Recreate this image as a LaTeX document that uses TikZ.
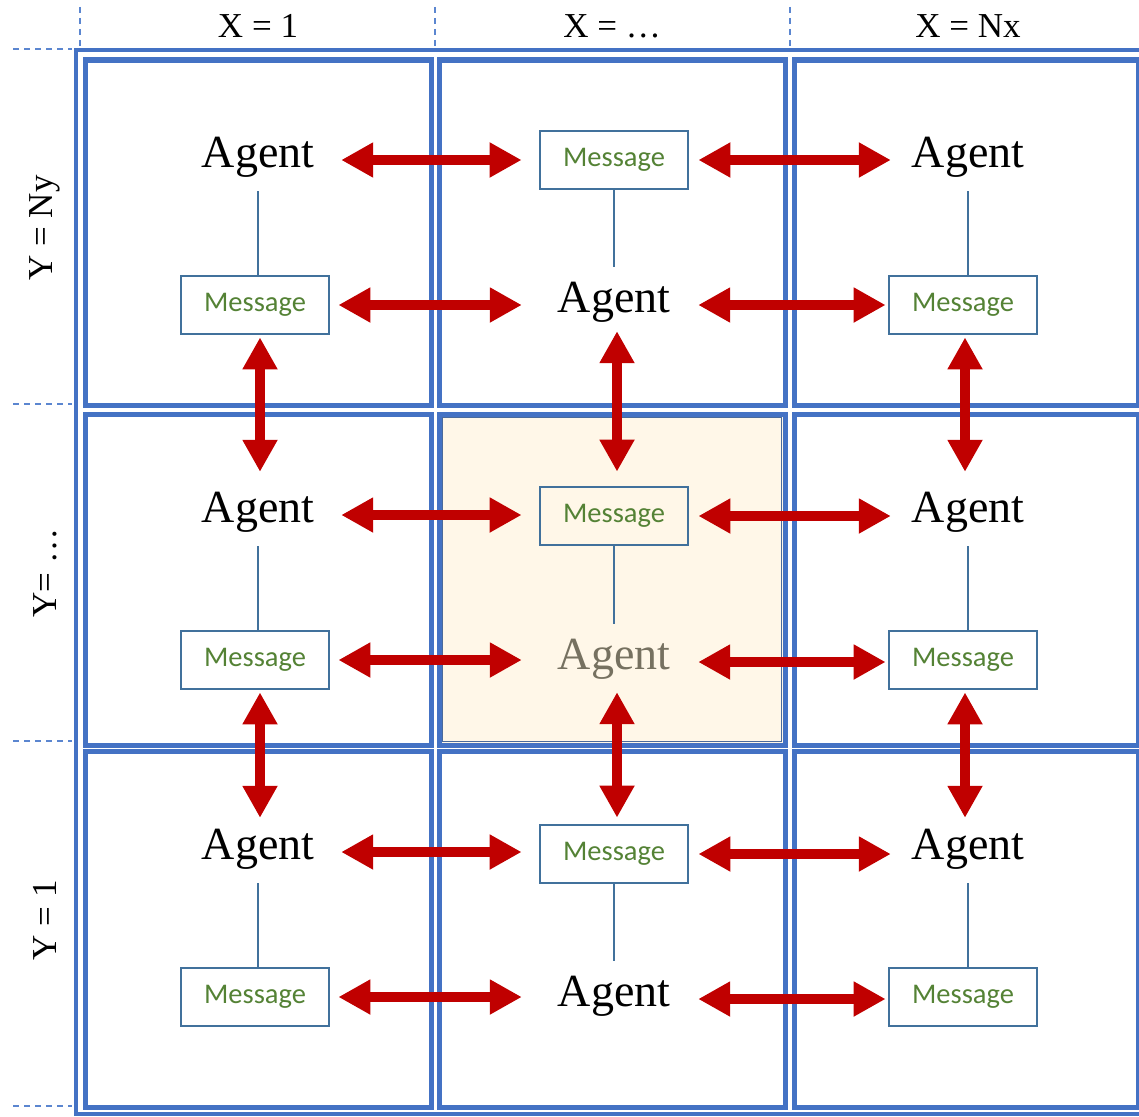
\documentclass[tikz,border=0pt]{standalone}
\usepackage{fontspec}
\setmainfont{Liberation Serif}
\newfontfamily\msgfont{Carlito}
\usetikzlibrary{arrows.meta}
\definecolor{gridblue}{HTML}{4472C4}
\definecolor{guideblue}{HTML}{5B86D0}
\definecolor{msgblue}{HTML}{41719C}
\definecolor{msggreen}{HTML}{548235}
\definecolor{arrred}{HTML}{C00000}
\definecolor{cream}{HTML}{FFF7E8}
\definecolor{agentgray}{HTML}{767160}
\definecolor{centerborder}{HTML}{4A6A9C}
\begin{document}
\begin{tikzpicture}[x=1pt,y=-1pt,
  cellbox/.style={draw=gridblue,line width=5pt},
  agent/.style={minimum width=150pt,minimum height=58pt,inner sep=0pt,font=\fontsize{46}{46}\selectfont},
  msg/.style={draw=msgblue,line width=2.8pt,minimum width=148pt,minimum height=58pt,inner sep=0pt,font=\msgfont\fontsize{28.5}{28.5}\selectfont,text=msggreen},
  link/.style={draw=msgblue,line width=1.6pt},
  biarrow/.style={draw=arrred,line width=10pt,{Triangle[length=32pt,width=33pt]}-{Triangle[length=32pt,width=33pt]}},
  hleft/.style={biarrow,shorten <=8pt,shorten >=17pt},
  hright/.style={biarrow,shorten <=9pt,shorten >=2pt},
  guide/.style={draw=guideblue,line width=1.3pt,dash pattern=on 6pt off 5pt},
  hdr/.style={font=\fontsize{35}{35}\selectfont,inner sep=0pt}
]
\useasboundingbox (0,0) rectangle (1139,1116);
\clip (0,0) rectangle (1139,1116);

% guides
\draw[guide] (80,7) -- (80,47);
\draw[guide] (435,7) -- (435,47);
\draw[guide] (790,7) -- (790,47);
\draw[guide] (13,49) -- (72,49);
\draw[guide] (13,404) -- (72,404);
\draw[guide] (13,741) -- (72,741);
\draw[guide] (13,1106) -- (72,1106);

% headers
\node[hdr] (hx1) at (258,26) {X = 1};
\node[hdr] (hx2) at (612,26) {X = …};
\node[hdr] (hx3) at (968,26) {X = Nx};
\node[hdr,rotate=90] (hy3) at (45,228) {Y = Ny};
\node[hdr,rotate=90] (hy2) at (45,573) {Y= …};
\node[hdr,rotate=90] (hy1) at (45,920) {Y = 1};

% outer frame
\draw[draw=gridblue,line width=4pt] (76,50) rectangle (1160,1114);

% cells
\draw[cellbox] (85,60) rectangle (431,405);
\draw[cellbox] (439,60) rectangle (785,405);
\draw[cellbox] (794,60) rectangle (1138,405);
\draw[cellbox] (85,414) rectangle (431,745);
\draw[cellbox,fill=cream] (439,414) rectangle (785,745);
\draw[draw=centerborder,line width=1.5pt] (442.5,417.5) rectangle (781.5,741.5);
\draw[cellbox] (794,414) rectangle (1138,745);
\draw[cellbox] (85,751) rectangle (431,1107);
\draw[cellbox] (439,751) rectangle (785,1107);
\draw[cellbox] (794,751) rectangle (1138,1107);

% row 1
\node[agent] (a11) at (258,157) {Agent};
\node[msg]   (m11) at (255,305) {Message};
\node[msg]   (m12) at (614,160) {Message};
\node[agent] (a12) at (614,302) {Agent};
\node[agent] (a13) at (968,157) {Agent};
\node[msg]   (m13) at (963,305) {Message};
% row 2
\node[agent] (a21) at (258,512) {Agent};
\node[msg]   (m21) at (255,660) {Message};
\node[msg]   (m22) at (614,516) {Message};
\node[agent,text=agentgray] (a22) at (614,659) {Agent};
\node[agent] (a23) at (968,512) {Agent};
\node[msg]   (m23) at (963,660) {Message};
% row 3
\node[agent] (a31) at (258,849) {Agent};
\node[msg]   (m31) at (255,997) {Message};
\node[msg]   (m32) at (614,854) {Message};
\node[agent] (a32) at (614,996) {Agent};
\node[agent] (a33) at (968,849) {Agent};
\node[msg]   (m33) at (963,997) {Message};

% links
\foreach \r in {1,2,3}{
  \draw[link,shorten <=5pt] (a\r1.south) -- (a\r1.south |- m\r1.north);
  \draw[link,shorten >=6pt] (m\r2.south) -- (m\r2.south |- a\r2.north);
  \draw[link,shorten <=5pt] (a\r3.south) -- (a\r3.south |- m\r3.north);
}

% horizontal arrows
\foreach \r in {1,2,3}{
  \draw[hleft] ([yshift=-3pt]a\r1.east) -- ([yshift=-3pt]a\r1.east -| m\r2.west);
  \draw[hright] (m\r2.east) -- (m\r2.east -| a\r3.west);
  \draw[hleft] (m\r1.east) -- (m\r1.east -| a\r2.west);
  \draw[hright] ([yshift=-3pt]a\r2.east) -- ([yshift=-3pt]a\r2.east -| m\r3.west);
}

% vertical arrows
\draw[biarrow,shorten <=2pt,shorten >=11pt] ([xshift=5pt]m11.south) -- ([xshift=5pt]m11.south |- a21.north);
\draw[biarrow,shorten <=0pt,shorten >=14pt] ([xshift=3pt]a12.south) -- ([xshift=3pt]a12.south |- m22.north);
\draw[biarrow,shorten <=2pt,shorten >=11pt] ([xshift=2pt]m13.south) -- ([xshift=2pt]m13.south |- a23.north);
\draw[biarrow,shorten <=2pt,shorten >=2pt] ([xshift=5pt]m21.south) -- ([xshift=5pt]m21.south |- a31.north);
\draw[biarrow,shorten <=4pt,shorten >=6pt] ([xshift=3pt]a22.south) -- ([xshift=3pt]a22.south |- m32.north);
\draw[biarrow,shorten <=2pt,shorten >=2pt] ([xshift=2pt]m23.south) -- ([xshift=2pt]m23.south |- a33.north);
\end{tikzpicture}
\end{document}
